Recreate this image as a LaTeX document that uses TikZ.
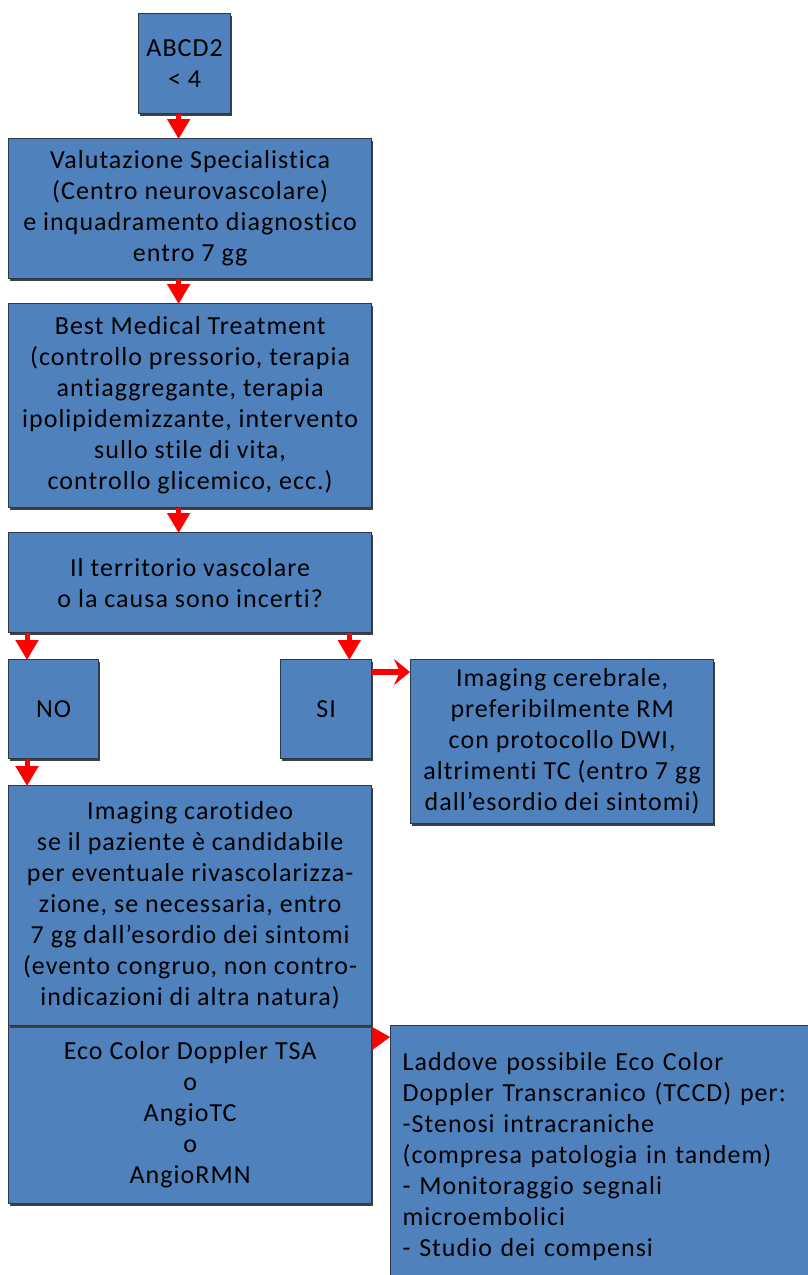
\documentclass[tikz,border=0pt]{standalone}
\usepackage{fontspec}
\setmainfont{Carlito}[Ligatures=NoCommon, LetterSpace=4]
\usetikzlibrary{arrows.meta,shadows,calc}
\definecolor{boxblue}{HTML}{4F81BD}
\definecolor{boxline}{HTML}{2A3848}
\definecolor{arrred}{HTML}{FF0000}
\tikzset{
  bx/.style={draw=boxline, line width=1.3pt, fill=boxblue, anchor=north west, inner sep=0pt,
    align=center, font=\fontsize{26}{31}\selectfont, text=black,
    drop shadow={shadow xshift=1.5pt, shadow yshift=-2pt, fill=black!75, opacity=1}},
  varrow/.style={draw=arrred, line width=5pt, -{Triangle[length=20pt,width=22pt]}, shorten >=-1pt},
  harrow/.style={draw=arrred, line width=6pt, -{Stealth[length=16pt,width=26pt,inset=6pt]}},
}
\begin{document}
\begin{tikzpicture}[x=1pt,y=-1pt]
\useasboundingbox (0,0) rectangle (808,1275);
\clip (0,0) rectangle (808,1275);
\fill[white] (0,0) rectangle (808,1275);
\node[bx, minimum width=92pt, minimum height=100pt] (abcd) at (138,13) {ABCD2\\< 4};
\node[bx, minimum width=363pt, minimum height=140pt] (val) at (8,138) {Valutazione Specialistica\\(Centro neurovascolare)\\e inquadramento diagnostico\\entro 7 gg};
\node[bx, minimum width=363pt, minimum height=204pt] (bmt) at (8,303) {Best Medical Treatment\\(controllo pressorio, terapia\\antiaggregante, terapia\\ipolipidemizzante, intervento\\sullo stile di vita,\\controllo glicemico, ecc.)};
\node[bx, minimum width=363pt, minimum height=100pt] (terr) at (8,532) {Il territorio vascolare\\o la causa sono incerti?};
\node[bx, minimum width=90pt, minimum height=99pt] (no) at (8,659) {NO};
\node[bx, minimum width=91pt, minimum height=99pt] (si) at (280,659) {SI};
\node[bx, minimum width=303pt, minimum height=164pt] (cer) at (410,659) {Imaging cerebrale,\\preferibilmente RM\\con protocollo DWI,\\altrimenti TC (entro 7 gg\\dall’esordio dei sintomi)};
\node[bx, minimum width=363pt, minimum height=178pt] (eco) at (8,1025) {Eco Color Doppler TSA\\o\\AngioTC\\o\\AngioRMN};
\node[bx, minimum width=363pt, minimum height=240pt] (car) at (8,785) {Imaging carotideo\\se il paziente è candidabile\\per eventuale rivascolarizza-\\zione, se necessaria, entro\\7 gg dall’esordio dei sintomi\\(evento congruo, non contro-\\indicazioni di altra natura)};
\node[bx, minimum height=262pt, align=left, text width=396pt, inner xsep=12pt] (lad) at (390,1025) {Laddove possibile Eco Color\\Doppler Transcranico (TCCD) per:\\-Stenosi intracraniche\\(compresa patologia in tandem)\\- Monitoraggio segnali\\microembolici\\- Studio dei compensi};
\draw[varrow] ([xshift=-6pt]abcd.south) -- ([xshift=-6pt]abcd.south |- val.north);
\draw[varrow] ([xshift=-11.5pt]val.south) -- ([xshift=-11.5pt]val.south |- bmt.north);
\draw[varrow] ([xshift=-11.5pt]bmt.south) -- ([xshift=-11.5pt]bmt.south |- terr.north);
\draw[varrow] ([xshift=19pt]terr.south west) -- ([xshift=19pt]terr.south west |- no.north);
\draw[varrow] ([xshift=-23pt]terr.south east) -- ([xshift=-23pt]terr.south east |- si.north);
\draw[varrow] ([xshift=19pt]no.south west) -- ([xshift=19pt]no.south west |- car.north);
\draw[harrow] ([yshift=-13pt]si.north east) -- ([yshift=-13pt]si.north east -| cer.west);
\coordinate (t1) at ([yshift=-2pt]eco.north east);
\coordinate (t2) at ([yshift=-25pt]eco.north east);
\coordinate (t3) at ([yshift=-12pt]eco.north east -| lad.west);
\fill[arrred] (t1) -- (t2) -- (t3) -- cycle;
\end{tikzpicture}
\end{document}
